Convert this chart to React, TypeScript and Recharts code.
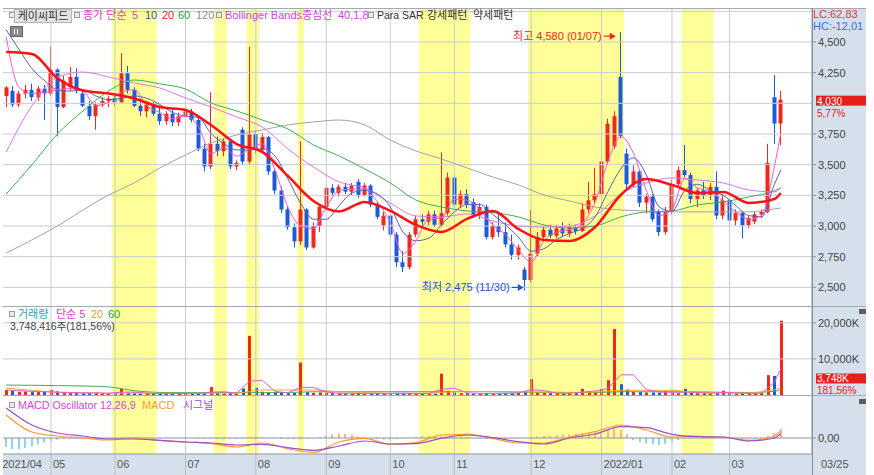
import React from "react";
import {
  ComposedChart,
  Bar,
  Line,
  XAxis,
  YAxis,
  ReferenceArea,
  ReferenceLine,
  ReferenceDot,
} from "recharts";

const FONT = '"Liberation Sans", "Noto Sans CJK KR", sans-serif';
const NUM_FONT = '"Liberation Sans", "Noto Sans", sans-serif';

const UP = "#f0281e";
const DOWN = "#1d5ad8";
const PLOT_BG = "#e2f5fc";
const BAND = "#ffff99";
const AXIS_BG = "#d6e0ec";
const GRID = "#c6ccd3";
const OSC_POS = "#f6b39a";
const OSC_NEG = "#8fd3f0";

const W = 863;
const AXIS_W = 54;
const RIGHT_PAD = 28;
const M = { top: 0, right: 0, bottom: 0, left: 0 };

// two-day candles: open, high, low, close
const ohlc: [number, number, number, number][] = [
  [4060, 4140, 3970, 4130], [4100, 4140, 3970, 3990], [3990, 4100, 3970, 4080], [4080, 4150, 4040, 4110],
  [4110, 4160, 4020, 4050], [4050, 4140, 4020, 4120], [4120, 4150, 3865, 4080], [4080, 4460, 4060, 4275],
  [4275, 4285, 3730, 3970], [3970, 4225, 3960, 4185], [4130, 4295, 4100, 4215], [4215, 4285, 4080, 4110],
  [4080, 4100, 3970, 3980], [3980, 4020, 3865, 3895], [3895, 4010, 3785, 3990], [3990, 4050, 3970, 4020],
  [4020, 4060, 3970, 4040], [4040, 4060, 3980, 4010], [4010, 4410, 4000, 4245], [4245, 4305, 4080, 4110],
  [4110, 4130, 3970, 3980], [3980, 4040, 3895, 3935], [3935, 4010, 3885, 3990], [3990, 4010, 3895, 3915],
  [3915, 3970, 3825, 3855], [3855, 3935, 3825, 3915], [3915, 3955, 3815, 3845], [3845, 3925, 3815, 3895],
  [3895, 3970, 3855, 3935], [3935, 3955, 3845, 3865], [3865, 3895, 3610, 3630], [3630, 3670, 3445, 3485],
  [3485, 4090, 3465, 3670], [3670, 3730, 3570, 3610], [3610, 3710, 3570, 3690], [3690, 3710, 3465, 3485],
  [3485, 3535, 3455, 3515], [3785, 3805, 3495, 3525], [3525, 4460, 3505, 3750], [3750, 3780, 3590, 3620],
  [3620, 3760, 3590, 3725], [3725, 3735, 3415, 3445], [3445, 3465, 3260, 3290], [3290, 3320, 3105, 3135],
  [3135, 3155, 2970, 2990], [2990, 3020, 2825, 2875], [2875, 3690, 2845, 3135], [3135, 3145, 2805, 2825],
  [2825, 3030, 2815, 3000], [3000, 3175, 2950, 3155], [3155, 3330, 3135, 3310], [3310, 3340, 3250, 3270],
  [3270, 3340, 3240, 3320], [3320, 3350, 3260, 3280], [3280, 3350, 3250, 3330], [3360, 3380, 3230, 3250],
  [3250, 3350, 3240, 3330], [3330, 3340, 3155, 3175], [3175, 3195, 3055, 3075], [3005, 3115, 2965, 3085],
  [3085, 3095, 2900, 2930], [2930, 2950, 2665, 2705], [2705, 2795, 2625, 2665], [2665, 2950, 2645, 2930],
  [2930, 3085, 2910, 3055], [3055, 3095, 2990, 3035], [3035, 3125, 3005, 3095], [3095, 3125, 2990, 3010],
  [3010, 3600, 2990, 3105], [3105, 3435, 3085, 3395], [3395, 3415, 3145, 3175], [3175, 3290, 3145, 3260],
  [3260, 3300, 3145, 3175], [3195, 3225, 3065, 3085], [3085, 3185, 3055, 3155], [3155, 3175, 2890, 2910],
  [2910, 3030, 2890, 3000], [3000, 3105, 2910, 2950], [2950, 3030, 2825, 2850], [2850, 2930, 2725, 2765],
  [2765, 2850, 2725, 2825], [2645, 2665, 2475, 2560], [2560, 3130, 2540, 2775], [2775, 2950, 2755, 2910],
  [2910, 3000, 2880, 2970], [2970, 3010, 2900, 2920], [2920, 3010, 2900, 2980], [2980, 3030, 2910, 2940],
  [2940, 3020, 2910, 2990], [2990, 3010, 2930, 2960], [2960, 3185, 2950, 3135], [3135, 3360, 3105, 3210],
  [3210, 3475, 3185, 3260], [3260, 3570, 3230, 3525], [3525, 3875, 3505, 3835], [3650, 3935, 3630, 3895],
  [4215, 4580, 3715, 3735], [3590, 3630, 3300, 3340], [3340, 3495, 3310, 3445], [3445, 3455, 3155, 3190],
  [3190, 3260, 3105, 3240], [3240, 3260, 3035, 3055], [3115, 3135, 2920, 2950], [2950, 3155, 2930, 3115],
  [3115, 3380, 3095, 3340], [3340, 3485, 3310, 3455], [3455, 3660, 3395, 3415], [3415, 3435, 3185, 3220],
  [3220, 3310, 3155, 3290], [3290, 3360, 3220, 3250], [3250, 3350, 3210, 3320], [3320, 3445, 3055, 3085],
  [3085, 3260, 3055, 3210], [3210, 3230, 3015, 3045], [3045, 3135, 3005, 3105], [3105, 3115, 2900, 3005],
  [3005, 3085, 2985, 3065], [3035, 3115, 3015, 3095], [3095, 3135, 3065, 3115], [3115, 3670, 3105, 3515],
  [4050, 4230, 3670, 3835], [3835, 4100, 3660, 4030],
];

// moving averages read every 2nd / 4th candle (last value = last candle)
const ma5 = [
  4541, 4130, 4080, 4090, 4110, 4120, 4100, 3980, 4010, 4090, 4110, 3980, 3925, 3875, 3895, 3815,
  3590, 3640, 3570, 3630, 3670, 3455, 3155, 3000, 2980, 3155, 3290, 3300, 3300, 3195, 3030, 2775,
  2880, 3055, 3065, 3220, 3210, 3135, 3010, 2930, 2805, 2705, 2880, 2950, 2970, 3020, 3195, 3525,
  3730, 3590, 3290, 3085, 3135, 3385, 3310, 3280, 3205, 3115, 3055, 3085, 3485, 3758,
];
const ma10 = [
  4598, 4440, 4285, 4185, 4110, 4100, 4110, 4060, 4030, 4040, 4060, 4040, 3990, 3925, 3895, 3885,
  3755, 3670, 3620, 3620, 3630, 3570, 3385, 3185, 3055, 3055, 3165, 3270, 3290, 3260, 3155, 2950,
  2880, 2900, 3010, 3115, 3175, 3175, 3095, 3010, 2910, 2795, 2815, 2890, 2940, 2980, 3075, 3280,
  3465, 3555, 3415, 3155, 3120, 3290, 3340, 3290, 3250, 3165, 3085, 3075, 3340, 3457,
];
const ma20 = [
  4418, 4402, 4205, 4105, 4080, 4040, 3970, 3946, 3823, 3668, 3604, 3408, 3204, 3119, 3196, 3123,
  3009, 2951, 3058, 3123, 2976, 2886, 2878, 2992, 3253, 3383, 3335, 3269, 3278, 3188, 3220, 3269,
];
const ma60 = [
  3261, 3498, 3750, 3938, 4101, 4190, 4158, 4117, 4003, 3938, 3864, 3791, 3661, 3571, 3465, 3351,
  3212, 3155, 3123, 3110, 3074, 3009, 2984, 3000, 3074, 3115, 3123, 3172, 3196, 3237, 3286, 3310,
];
const ma120 = [
  2780, 2886, 3000, 3131, 3253, 3351, 3473, 3579, 3677, 3742, 3783, 3824, 3848, 3864, 3824, 3701,
  3612, 3546, 3473, 3400, 3335, 3253, 3204, 3155, 3131, 3123, 3115, 3115, 3115, 3115, 3139, 3147,
];
const bbMid = [
  3604, 3978, 4215, 4255, 4215, 4166, 4125, 4044, 3970, 3889, 3807, 3628, 3481, 3359, 3310, 3188,
  3082, 3074, 3098, 3041, 3000, 2992, 3000, 3082, 3261, 3351, 3392, 3375, 3351, 3294, 3278, 3310,
];

// volume in thousands of shares
const volume = [
  1400, 1200, 900, 1000, 800, 900, 1100, 1400, 1000, 700, 600, 700, 500, 600, 700, 500,
  400, 500, 1700, 600, 500, 400, 400, 500, 400, 300, 400, 300, 400, 400, 300, 500,
  2200, 600, 400, 500, 400, 1800, 16400, 2000, 900, 600, 700, 600, 500, 600, 9000, 800,
  600, 700, 600, 500, 500, 400, 400, 500, 400, 400, 500, 400, 500, 600, 500, 500,
  400, 400, 300, 400, 5900, 1200, 700, 500, 500, 400, 400, 500, 400, 400, 500, 500,
  600, 900, 4400, 800, 600, 500, 500, 400, 500, 500, 1700, 1000, 900, 1700, 4100, 18300,
  3000, 1500, 900, 800, 700, 700, 600, 1000, 600, 500, 1700, 600, 500, 500, 400, 500,
  1200, 500, 400, 400, 500, 500, 600, 5500, 5300, 20600,
];
const volMa5 = [
  1400, 1200, 1000, 900, 800, 700, 600, 600, 500, 800, 800, 500, 400, 400, 400, 400,
  800, 900, 500, 3800, 4100, 1000, 600, 2100, 2100, 800, 500, 450, 450, 450, 450, 500,
  450, 400, 1600, 1900, 600, 450, 450, 450, 550, 1500, 1200, 500, 450, 800, 1100, 1800,
  5600, 5600, 1500, 800, 750, 800, 700, 500, 700, 550, 450, 500, 3500, 7300,
];
const volMa20 = [
  1900, 1300, 700, 550, 500, 550, 500, 450, 500, 550, 1400, 1400, 1400, 900, 700, 450,
  450, 700, 1000, 1000, 900, 800, 700, 800, 1300, 1300, 1300, 650, 600, 550, 1500, 1900,
];
const volMa60 = [
  2750, 2700, 2600, 2500, 2250, 1200, 700, 650, 650, 650, 650, 700, 900, 900, 900, 900,
  900, 900, 950, 900, 800, 750, 700, 700, 900, 900, 900, 850, 750, 700, 1000, 1500,
];

// MACD 12,26,9 (every 4th candle) and oscillator (every candle)
const macd = [
  115, 30, 10, 0, -10, 0, -12, -20, -28, -45, -25, -53, -72, -20, -2, -32,
  -23, 15, 18, -2, -25, -25, 5, 32, 65, 40, 5, 8, 5, -12, 10, 35,
];
const signal = [
  150, 65, 25, 10, -5, -5, -12, -20, -25, -35, -32, -48, -62, -40, -15, -30,
  -28, -2, 15, 2, -18, -30, 0, 20, 57, 52, 18, 7, 5, -15, 0, 20,
];
const oscillator = [
  -45, -55, -55, -50, -42, -32, -22, -14, -8, -5, -5, -3, -3, -3, -3, -2,
  -2, -2, 3, 4, 3, 2, -2, -2, -3, -3, -2, -2, -3, -3, -4, -4,
  -3, -5, -5, -6, -6, -3, 4, 6, 5, 3, -3, -5, -6, -6, -5, -4,
  -2, 5, 12, 18, 22, 20, 16, 8, 4, -2, -5, -8, -8, -6, -4, 2,
  6, 10, 12, 10, 8, 6, 4, 2, 2, -2, -4, -5, -6, -6, -5, -4,
  -3, -2, 6, 8, 10, 12, 14, 16, 18, 20, 22, 24, 28, 32, 40, 48,
  40, 20, -10, -20, -28, -32, -35, -30, -20, -10, -2, 2, 3, 3, 2, 1,
  -2, -3, -4, -4, -4, -3, 2, 12, 25, 45,
];

const monthTicks = [0, 7, 17, 28, 39, 50, 60, 70, 82, 93, 104, 113];
const monthLabels = ["2021/04", "05", "06", "07", "08", "09", "10", "11", "12", "2022/01", "02", "03"];
const highlightRanges: [number, number][] = [
  [17, 23], [33, 34], [38, 39], [46, 46], [65, 72], [82, 96], [106, 110], [119, 121],
];
const priceTicks = [2500, 2750, 3000, 3250, 3500, 3750, 4250, 4500];
const priceGrid = [2500, 2750, 3000, 3250, 3500, 3750, 4000, 4250, 4500, 4750];
const volumeTicks = [10000, 20000];

const N = ohlc.length;
const pick = (vals: number[], step: number, i: number) =>
  i === N - 1 ? vals[vals.length - 1] : i % step === 0 ? vals[i / step] : null;

const rows = ohlc.map(([open, high, low, close], i) => ({
  i,
  open,
  high,
  low,
  close,
  up: close >= open,
  ma5: pick(ma5, 2, i),
  ma10: pick(ma10, 2, i),
  ma20: pick(ma20, 4, i),
  ma60: pick(ma60, 4, i),
  ma120: pick(ma120, 4, i),
  bb: pick(bbMid, 4, i),
  vol: volume[i],
  vma5: pick(volMa5, 2, i),
  vma20: pick(volMa20, 4, i),
  vma60: pick(volMa60, 4, i),
  macd: pick(macd, 4, i),
  signal: pick(signal, 4, i),
  osc: oscillator[i],
}));

const last = rows[N - 1];
const highIdx = rows.reduce((b, r) => (r.high > rows[b].high ? r.i : b), 0);
const lowIdx = rows.reduce((b, r) => (r.low < rows[b].low ? r.i : b), 0);

function Candle(props: any) {
  const { x, y, width, height, payload } = props;
  if (!payload) return null;
  const top = Math.min(y, y + height);
  const h = Math.abs(height);
  const k = h / (payload.high - payload.low || 1);
  const yo = top + (payload.high - payload.open) * k;
  const yc = top + (payload.high - payload.close) * k;
  const cx = Math.floor(x + width / 2) + 0.5;
  const color = payload.up ? UP : DOWN;
  return (
    <g>
      <line x1={cx} x2={cx} y1={top} y2={top + h} stroke={color} strokeWidth={1} />
      <rect x={cx - 2} y={Math.min(yo, yc)} width={4} height={Math.max(1, Math.abs(yc - yo))} fill={color} />
    </g>
  );
}

function VolBar(props: any) {
  const { x, y, width, height, payload } = props;
  if (!payload) return null;
  return (
    <rect x={Math.round(x)} y={Math.min(y, y + height)} width={width} height={Math.abs(height)} fill={payload.up ? UP : DOWN} />
  );
}

function OscBar(props: any) {
  const { x, y, width, height, payload } = props;
  if (!payload) return null;
  return (
    <rect x={Math.round(x)} y={Math.min(y, y + height)} width={width} height={Math.abs(height)} fill={payload.osc >= 0 ? OSC_POS : OSC_NEG} />
  );
}

function MonthTick(props: any) {
  const { x, y, payload } = props;
  const k = monthTicks.indexOf(payload.value);
  const first = payload.value === 0;
  return (
    <g>
      {!first && <line x1={x} x2={x} y1={y} y2={y + 21} stroke="#b4bcc5" />}
      <text x={first ? x - 4 : x + 2} y={y + 14} fill="#555" fontSize={11} fontFamily={NUM_FONT}>
        {monthLabels[k]}
      </text>
    </g>
  );
}

const tag = (text: string, sub: string, dy: number) => (props: any) => {
  const vb = props.viewBox;
  const x = vb.x + vb.width + 4;
  const y = vb.y + dy;
  return (
    <g fontFamily={NUM_FONT} fontSize={10}>
      <rect x={x} y={y - 5} width={50} height={10} fill="#e8201c" />
      <text x={x + 1} y={y + 4} fill="#fff">{text}</text>
      <text x={x + 1} y={y + 16} fill="#e8201c">{sub}</text>
    </g>
  );
};

const noteLabel = (text: string, color: string, dy: number, gap: number) => (props: any) => {
  const vb = props.viewBox;
  const cx = vb.x + vb.width / 2;
  const cy = vb.y + vb.height / 2 + dy;
  return (
    <g>
      <text x={cx - gap - 14} y={cy + 4} textAnchor="end" fill={color} fontSize={11} fontFamily={FONT}>
        {text}
      </text>
      <line x1={cx - gap - 12} x2={cx - gap - 4} y1={cy} y2={cy} stroke={color} strokeWidth={1.2} />
      <path d={`M${cx - gap},${cy} l-6,-3.5 v7 z`} fill={color} />
    </g>
  );
};

const yAxisTick = { fill: "#444", fontSize: 11, fontFamily: NUM_FONT };

function Backdrop(grid: number[]) {
  return [
    <ReferenceArea key="bg" x1={0} x2={N - 1} fill={PLOT_BG} fillOpacity={1} stroke="none" />,
    ...highlightRanges.map(([a, b]) => (
      <ReferenceArea key={`b${a}`} x1={a} x2={b} fill={BAND} fillOpacity={1} stroke="none" />
    )),
    ...monthTicks.slice(1).map((t) => <ReferenceLine key={`m${t}`} x={t} stroke={GRID} />),
    ...grid.map((v) => <ReferenceLine key={`h${v}`} y={v} stroke={GRID} />),
  ];
}

function PriceChart() {
  return (
    <ComposedChart width={W} height={298} data={rows} margin={M}>
      <XAxis dataKey="i" hide padding={{ left: 0, right: RIGHT_PAD }} />
      <YAxis
        orientation="right"
        width={AXIS_W}
        domain={[2348, 4777]}
        allowDataOverflow
        ticks={priceTicks}
        interval={0}
        tickFormatter={(v: number) => v.toLocaleString("en-US")}
        tick={yAxisTick}
        tickSize={4}
        tickMargin={2}
        axisLine={{ stroke: "#8a9098" }}
        tickLine={{ stroke: "#8a9098" }}
      />
      {Backdrop(priceGrid)}
      <Bar dataKey={(d: any) => [d.low, d.high]} barSize={4} shape={(p: any) => <Candle {...p} />} isAnimationActive={false} />
      <Line dataKey="ma120" type="monotone" stroke="#a3a3a3" strokeWidth={1} dot={false} connectNulls isAnimationActive={false} />
      <Line dataKey="ma60" type="monotone" stroke="#3fae52" strokeWidth={1} dot={false} connectNulls isAnimationActive={false} />
      <Line dataKey="bb" type="monotone" stroke="#d878ea" strokeWidth={1} dot={false} connectNulls isAnimationActive={false} />
      <Line dataKey="ma10" type="monotone" stroke="#5563b4" strokeWidth={1} dot={false} connectNulls isAnimationActive={false} />
      <Line dataKey="ma5" type="monotone" stroke="#f05ad2" strokeWidth={1} dot={false} connectNulls isAnimationActive={false} />
      <Line dataKey="ma20" type="monotone" stroke="#ff1212" strokeWidth={2.5} dot={false} connectNulls isAnimationActive={false} />
      <ReferenceLine y={last.close} stroke="none" label={tag(last.close.toLocaleString("en-US"), "5,77%", 1)} />
      <ReferenceDot
        x={highIdx}
        y={rows[highIdx].high}
        r={1}
        fill="none"
        stroke="none"
        label={noteLabel(`최고 ${rows[highIdx].high.toLocaleString("en-US")} (01/07)`, "#f02424", 4, 5)}
      />
      <ReferenceDot
        x={lowIdx}
        y={rows[lowIdx].low}
        r={1}
        fill="none"
        stroke="none"
        label={noteLabel(`최저 ${rows[lowIdx].low.toLocaleString("en-US")} (11/30)`, "#2450e0", -3, 1)}
      />
    </ComposedChart>
  );
}

function VolumeChart() {
  return (
    <ComposedChart width={W} height={88} data={rows} margin={M}>
      <XAxis dataKey="i" hide padding={{ left: 0, right: RIGHT_PAD }} />
      <YAxis
        orientation="right"
        width={AXIS_W}
        domain={[0, 24400]}
        allowDataOverflow
        ticks={volumeTicks}
        interval={0}
        tickFormatter={(v: number) => `${v.toLocaleString("en-US")}K`}
        tick={yAxisTick}
        tickSize={4}
        tickMargin={2}
        axisLine={{ stroke: "#8a9098" }}
        tickLine={{ stroke: "#8a9098" }}
      />
      {Backdrop(volumeTicks)}
      <Bar dataKey="vol" barSize={3} shape={(p: any) => <VolBar {...p} />} isAnimationActive={false} />
      <Line dataKey="vma60" type="monotone" stroke="#3fae52" strokeWidth={1} dot={false} connectNulls isAnimationActive={false} />
      <Line dataKey="vma20" type="monotone" stroke="#f0a830" strokeWidth={1} dot={false} connectNulls isAnimationActive={false} />
      <Line dataKey="vma5" type="linear" stroke="#e85ad2" strokeWidth={1} dot={false} connectNulls isAnimationActive={false} />
      <ReferenceLine y={3748} stroke="none" label={tag("3,748K", "181,56%", -3)} />
    </ComposedChart>
  );
}

function MacdChart() {
  return (
    <ComposedChart width={W} height={79} data={rows} margin={M}>
      <XAxis
        dataKey="i"
        ticks={monthTicks}
        interval={0}
        tick={(p: any) => <MonthTick {...p} />}
        tickSize={0}
        tickMargin={0}
        tickLine={false}
        axisLine={{ stroke: "#8f969e" }}
        height={21}
        padding={{ left: 0, right: RIGHT_PAD }}
      />
      <YAxis
        orientation="right"
        width={AXIS_W}
        domain={[-80, 210]}
        allowDataOverflow
        ticks={[0]}
        interval={0}
        tickFormatter={() => "0,00"}
        tick={yAxisTick}
        tickSize={4}
        tickMargin={2}
        axisLine={{ stroke: "#8a9098" }}
        tickLine={{ stroke: "#8a9098" }}
      />
      {Backdrop([])}
      <Bar dataKey="osc" barSize={2} shape={(p: any) => <OscBar {...p} />} isAnimationActive={false} />
      <ReferenceLine y={0} stroke="#8d949b" />
      <Line dataKey="macd" type="monotone" stroke="#ff9a2e" strokeWidth={1.2} dot={false} connectNulls isAnimationActive={false} />
      <Line dataKey="signal" type="monotone" stroke="#9b4fc8" strokeWidth={1.2} dot={false} connectNulls isAnimationActive={false} />
    </ComposedChart>
  );
}

function Txt({ x, cy, c, children, size = 11 }: any) {
  return (
    <span style={{ position: "absolute", left: x, top: cy - 6, height: 12, lineHeight: "12px", fontSize: size, color: c, whiteSpace: "nowrap" }}>
      {children}
    </span>
  );
}

function Bullet({ x, cy }: any) {
  return (
    <span style={{ position: "absolute", left: x, top: cy - 3, width: 4, height: 4, border: "1px solid #9a9a9a", background: "#ececec" }} />
  );
}

export default function App() {
  return (
    <div style={{ position: "absolute", left: 0, top: 0, width: 874, height: 475, background: "#fff", overflow: "hidden", fontFamily: FONT }}>
      <div style={{ position: "absolute", left: 812, top: 8, width: AXIS_W, height: 467, background: AXIS_BG }} />
      <div style={{ position: "absolute", left: 3, top: 454, width: 809, height: 21, background: AXIS_BG }} />

      <div style={{ position: "absolute", left: 3, top: 8 }}>
        <PriceChart />
      </div>
      <div style={{ position: "absolute", left: 3, top: 307 }}>
        <VolumeChart />
      </div>
      <div style={{ position: "absolute", left: 3, top: 396 }}>
        <MacdChart />
      </div>

      <div style={{ position: "absolute", left: 3, top: 8, width: W, height: 1, background: "#a4aab0" }} />
      <div style={{ position: "absolute", left: 3, top: 306, width: W, height: 1, background: "#a4aab0" }} />
      <div style={{ position: "absolute", left: 3, top: 395, width: W, height: 1, background: "#a4aab0" }} />
      <div style={{ position: "absolute", left: 812, top: 8, width: 1, height: 467, background: "#8a9098" }} />

      {/* price legend */}
      <Bullet x={9} cy={15} />
      <span style={{ position: "absolute", left: 14, top: 9, width: 56, height: 12, border: "1px solid #b4b4b4", background: "#e4e4e4", fontSize: 11, lineHeight: "12px", color: "#333", textAlign: "center" }}>
        케이씨피드
      </span>
      <Bullet x={74} cy={15} />
      <Txt x={83} cy={15} c="#e33cc4">종가 단순</Txt>
      <Txt x={132} cy={15} c="#e33cc4">5</Txt>
      <Txt x={145} cy={15} c="#3c50b4">10</Txt>
      <Txt x={162} cy={15} c="#f02020">20</Txt>
      <Txt x={178} cy={15} c="#22a34a">60</Txt>
      <Txt x={196} cy={15} c="#8c8c8c">120</Txt>
      <Bullet x={216} cy={15} />
      <Txt x={225} cy={15} c="#cc44dd">Bollinger Bands</Txt>
      <Txt x={302} cy={15} c="#cc44dd">중심선</Txt>
      <Txt x={338} cy={15} c="#cc44dd">40,1,8</Txt>
      <Bullet x={368} cy={15} />
      <Txt x={377} cy={15} c="#333" size={10.5}>Para SAR</Txt>
      <Txt x={427} cy={15} c="#333">강세패턴</Txt>
      <Txt x={473} cy={15} c="#333">약세패턴</Txt>
      <span style={{ position: "absolute", left: 10, top: 26, width: 11, height: 9, border: "1px solid #666", background: "#8c8c8c" }}>
        <span style={{ position: "absolute", left: 3, top: 2, width: 1, height: 5, background: "#fff" }} />
        <span style={{ position: "absolute", left: 6, top: 2, width: 1, height: 5, background: "#fff" }} />
      </span>
      <Txt x={813} cy={14} c="#e23a3a">LC:62,83</Txt>
      <Txt x={813} cy={26} c="#3a6ee0">HC:-12,01</Txt>

      {/* volume legend */}
      <Bullet x={9} cy={314} />
      <Txt x={18} cy={314} c="#2ea3b5">거래량</Txt>
      <Txt x={56} cy={314} c="#e33cc4">단순 5</Txt>
      <Txt x={91} cy={314} c="#f0a030">20</Txt>
      <Txt x={108} cy={314} c="#22a34a">60</Txt>
      <Txt x={10} cy={326} c="#444" size={10.5}>3,748,416주(181,56%)</Txt>
      <span style={{ position: "absolute", left: 859, top: 309, width: 7, height: 5, background: "#5e5e5e" }} />

      {/* MACD legend */}
      <Bullet x={9} cy={405} />
      <Txt x={18} cy={405} c="#d545d5" size={10.7}>MACD Oscillator 12,26,9</Txt>
      <Txt x={142} cy={405} c="#f59a3a">MACD</Txt>
      <Txt x={183} cy={405} c="#a050c8">시그널</Txt>
      <span style={{ position: "absolute", left: 859, top: 399, width: 7, height: 5, background: "#5e5e5e" }} />

      <span style={{ position: "absolute", left: 821, top: 457, fontSize: 11, lineHeight: "14px", color: "#555", fontFamily: NUM_FONT }}>
        03/25
      </span>
    </div>
  );
}
